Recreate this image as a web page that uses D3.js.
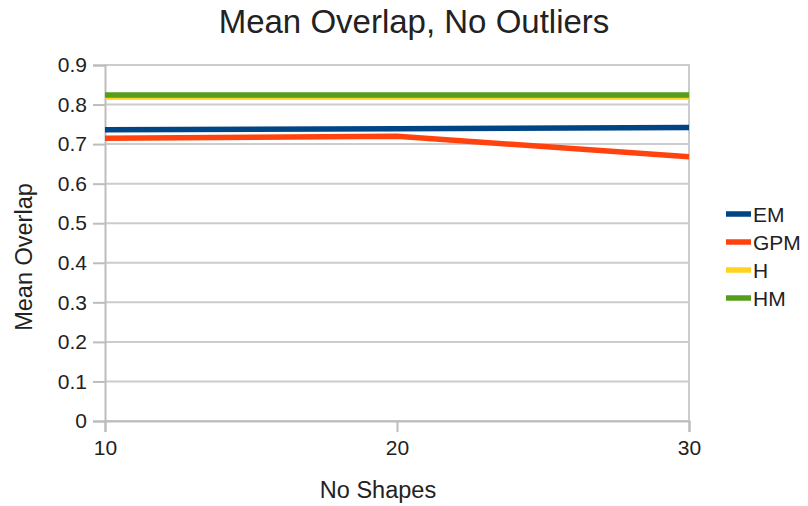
<!DOCTYPE html>
<html>
<head>
<meta charset="utf-8">
<script src="https://cdn.jsdelivr.net/npm/d3@7"></script>
<style>
  html, body { margin: 0; padding: 0; background: #fff; }
  svg { display: block; font-family: "Liberation Sans", Arial, sans-serif; }
</style>
</head>
<body>
<svg id="chart" width="808" height="506"></svg>
<script>
// Number of shapes on the x axis
const shapes = [10, 20, 30];
// Mean overlap per method
const emValues  = [0.736, 0.739, 0.742];
const gpmValues = [0.715, 0.720, 0.668];
const hValues   = [0.819, 0.819, 0.819];
const hmValues  = [0.824, 0.824, 0.824];
const seriesNames  = ["EM", "GPM", "H", "HM"];
const seriesColors = ["#004586", "#ff420e", "#ffd320", "#579d1c"];
const yTicks = [0, 0.1, 0.2, 0.3, 0.4, 0.5, 0.6, 0.7, 0.8, 0.9];

const series = [emValues, gpmValues, hValues, hmValues].map((v, i) => ({
  name: seriesNames[i], color: seriesColors[i], values: v
}));

const svg = d3.select("#chart");
const plotLeft = 105, plotRight = 689, plotTop = 65, plotBottom = 421;
const textColor = "#222";
const axisGrey = "#bdbdbd";

const x = d3.scaleLinear().domain([10, 30]).range([plotLeft, plotRight]);
const y = d3.scaleLinear().domain([0, 0.9]).range([plotBottom, plotTop]);

// horizontal grid
svg.append("g").selectAll("line").data(yTicks).join("line")
  .attr("x1", plotLeft).attr("x2", plotRight)
  .attr("y1", d => y(d)).attr("y2", d => y(d))
  .attr("stroke", "#cccccc").attr("stroke-width", 2);

// right frame edge
svg.append("line").attr("x1", plotRight).attr("x2", plotRight).attr("y1", plotTop - 1).attr("y2", plotBottom)
  .attr("stroke", "#cccccc").attr("stroke-width", 2);

// y axis
const yAxis = svg.append("g").attr("transform", `translate(${plotLeft},0)`)
  .call(d3.axisLeft(y).tickValues(yTicks).tickSize(12).tickPadding(6)
    .tickFormat(d => d === 0 ? "0" : d3.format(".1f")(d)));
yAxis.select(".domain").attr("stroke", axisGrey).attr("stroke-width", 2);
yAxis.selectAll(".tick line").attr("stroke", axisGrey).attr("stroke-width", 2);
yAxis.selectAll(".tick text").attr("font-size", 21).attr("fill", textColor)
  .attr("font-family", "Liberation Sans, Arial, sans-serif");

// x axis
const xAxis = svg.append("g").attr("transform", `translate(0,${plotBottom})`)
  .call(d3.axisBottom(x).tickValues(shapes).tickSize(11).tickPadding(8).tickFormat(d3.format("d")));
xAxis.select(".domain").attr("stroke", axisGrey).attr("stroke-width", 2);
xAxis.selectAll(".tick line").attr("stroke", axisGrey).attr("stroke-width", 2);
xAxis.selectAll(".tick text").attr("font-size", 21).attr("fill", textColor)
  .attr("font-family", "Liberation Sans, Arial, sans-serif");

// series lines
const line = d3.line().x((d, i) => x(shapes[i])).y(d => y(d));
svg.append("g").selectAll("path").data(series).join("path")
  .attr("d", d => line(d.values))
  .attr("fill", "none").attr("stroke", d => d.color)
  .attr("stroke-width", 5.5).attr("stroke-linejoin", "round");

// title
svg.append("text").attr("x", 414).attr("y", 33).attr("text-anchor", "middle")
  .attr("font-size", 33).attr("fill", textColor).text("Mean Overlap, No Outliers");

// axis titles
svg.append("text").attr("x", 378).attr("y", 498).attr("text-anchor", "middle")
  .attr("font-size", 23.5).attr("fill", textColor).text("No Shapes");
svg.append("text").attr("transform", "translate(32,257) rotate(-90)")
  .attr("text-anchor", "middle").attr("font-size", 23.5).attr("fill", textColor).text("Mean Overlap");

// legend
const legend = svg.append("g").selectAll("g").data(series).join("g")
  .attr("transform", (d, i) => `translate(726,${214 + i * 28})`);
legend.append("line").attr("x1", 0).attr("x2", 25).attr("y1", 0).attr("y2", 0)
  .attr("stroke", d => d.color).attr("stroke-width", 5.5);
legend.append("text").attr("x", 27).attr("y", 7.5).attr("font-size", 21).attr("fill", textColor)
  .text(d => d.name);
</script>
</body>
</html>
